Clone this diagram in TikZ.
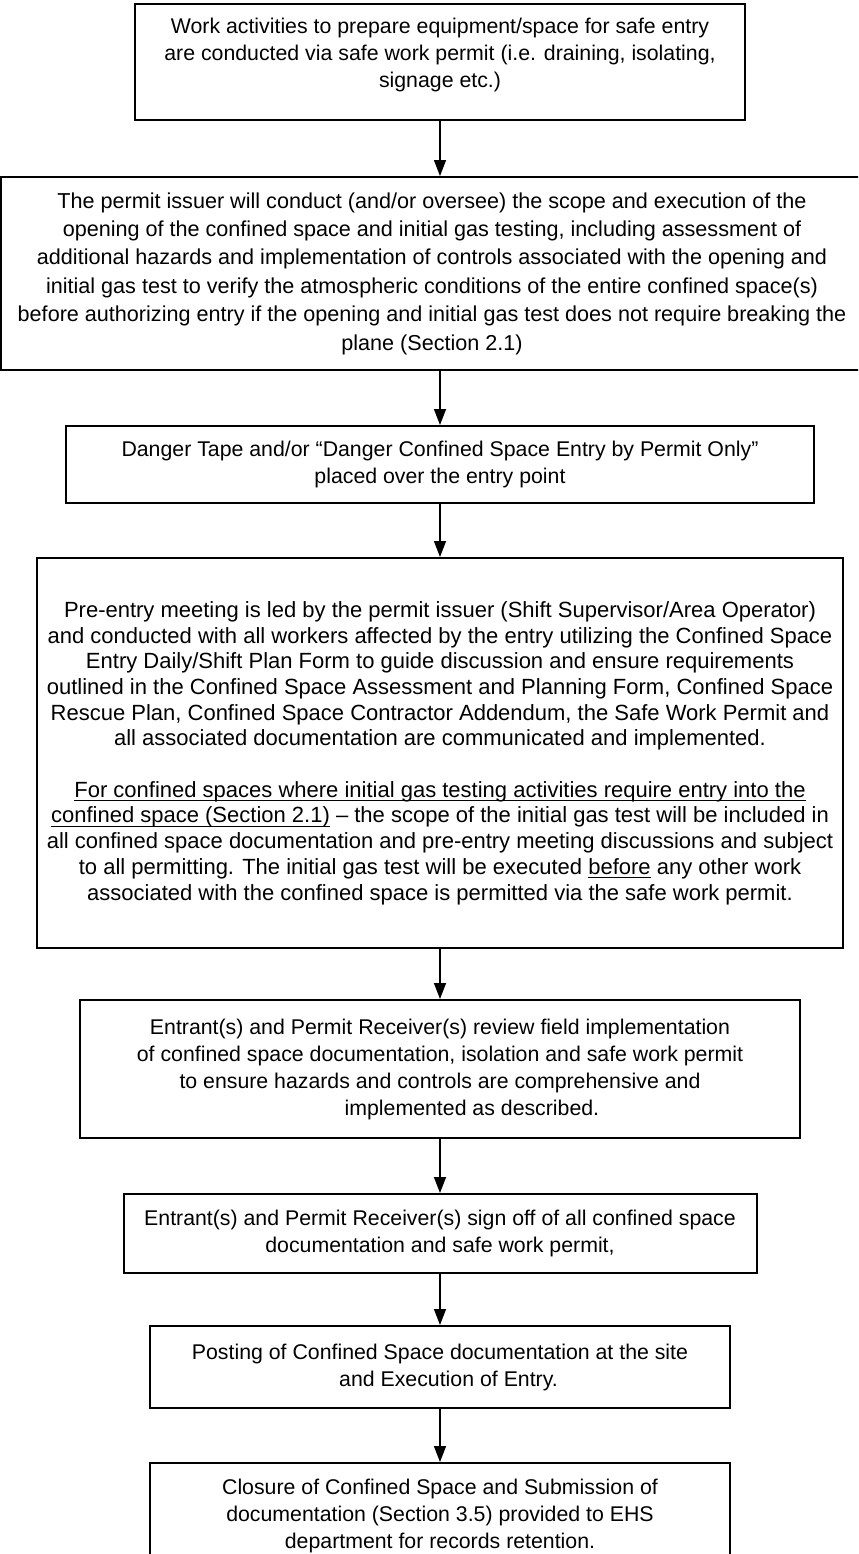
\documentclass[tikz,border=0pt]{standalone}
\usepackage{fontspec}
\setmainfont{Liberation Sans}
\usetikzlibrary{arrows.meta}
\newsavebox\ulinebox
\newcommand\ulin[1]{\sbox\ulinebox{#1}\rlap{\rule[-2pt]{\wd\ulinebox}{0.5pt}}\usebox\ulinebox}

\begin{document}
\begin{tikzpicture}[x=0.5pt,y=-0.5pt,
  box/.style={draw, line width=1pt, inner sep=0pt, align=center,
    font=\fontsize{10.65}{13.5}\selectfont},
  arr/.style={-{Triangle[width=6pt,length=8pt]}, line width=0.7pt}]
  \clip (0,0) rectangle (858,1554);
  \fill[white] (0,0) rectangle (858,1554);

  \node[box, minimum width=305pt, minimum height=58pt, text depth=9pt] (prep) at (440,62)
    {Work activities to prepare equipment/space for safe entry\\
     are conducted via safe work permit (i.e. draining, isolating,\\
     signage etc.)};

  \node[box, minimum width=431pt, minimum height=96.5pt,
    font=\fontsize{10.8}{14.2}\selectfont] (open) at (432,273.5)
    {The permit issuer will conduct (and/or oversee) the scope and execution of the\\
     opening of the confined space and initial gas testing, including assessment of\\
     additional hazards and implementation of controls associated with the opening and\\
     initial gas test to verify the atmospheric conditions of the entire confined space(s)\\
     before authorizing entry if the opening and initial gas test does not require breaking the\\
     plane (Section 2.1)};

  \node[box, minimum width=374pt, minimum height=38.5pt] (tape) at (440,464.5)
    {Danger Tape and/or “Danger Confined Space Entry by Permit Only”\\
     placed over the entry point};

  \node[box, minimum width=403pt, minimum height=195pt,
    font=\fontsize{11}{12.85}\selectfont] (meet) at (440,753)
    {Pre-entry meeting is led by the permit issuer (Shift Supervisor/Area Operator)\\
     and conducted with all workers affected by the entry utilizing the Confined Space\\
     Entry Daily/Shift Plan Form to guide discussion and ensure requirements\\
     outlined in the Confined Space Assessment and Planning Form, Confined Space\\
     Rescue Plan, Confined Space Contractor Addendum, the Safe Work Permit and\\
     all associated documentation are communicated and implemented.\\[12.85pt]
     \ulin{For confined spaces where initial gas testing activities require entry into the}\\
     \ulin{confined space (Section 2.1)} – the scope of the initial gas test will be included in\\
     all confined space documentation and pre-entry meeting discussions and subject\\
     to all permitting. The initial gas test will be executed \ulin{before} any other work\\
     associated with the confined space is permitted via the safe work permit.};

  \node[box, minimum width=360pt, minimum height=69pt] (review) at (440,1069)
    {Entrant(s) and Permit Receiver(s) review field implementation\\
     of confined space documentation, isolation and safe work permit\\
     to ensure hazards and controls are comprehensive and\\
     \hspace*{3em}implemented as described.};

  \node[box, minimum width=316.5pt, minimum height=39.5pt] (signoff) at (440,1233.5)
    {Entrant(s) and Permit Receiver(s) sign off of all confined space\\
     documentation and safe work permit,};

  \node[box, minimum width=290pt, minimum height=41pt] (post) at (440,1367)
    {Posting of Confined Space documentation at the site\\
     \hspace*{0.8em}and Execution of Entry.};

  \node[box, minimum width=290pt, minimum height=53pt] (close) at (440,1516)
    {Closure of Confined Space and Submission of\\
     documentation (Section 3.5) provided to EHS\\
     department for records retention.};

  \draw[arr] (prep) -- (prep |- open.north);
  \draw[arr] (tape |- open.south) -- (tape);
  \draw[arr] (tape) -- (meet);
  \draw[arr] (meet) -- (review);
  \draw[arr] (review) -- (signoff);
  \draw[arr] (signoff) -- (post);
  \draw[arr] (post) -- (close);
\end{tikzpicture}
\end{document}
